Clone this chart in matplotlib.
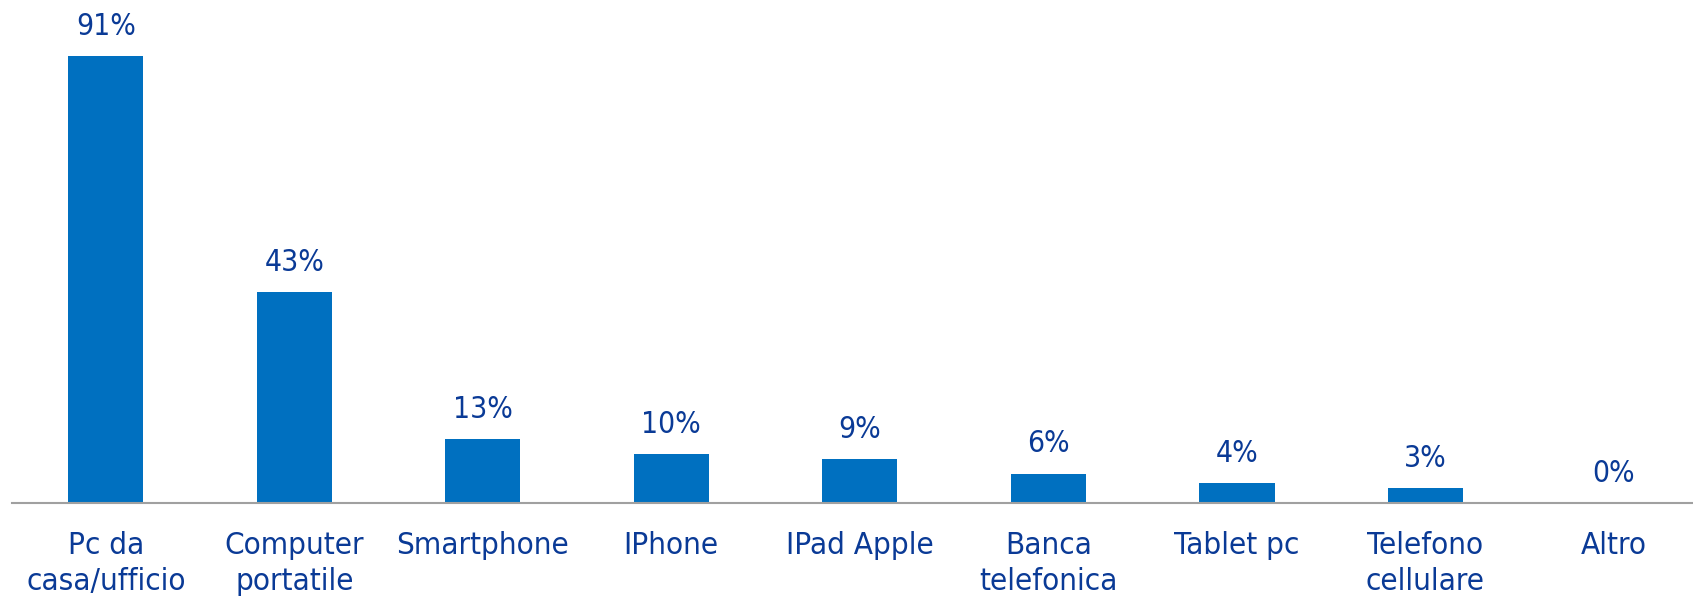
import matplotlib.pyplot as plt

# Data
categories = ["Pc da\ncasa/ufficio", "Computer\nportatile", "Smartphone", "IPhone",
              "IPad Apple", "Banca\ntelefonica", "Tablet pc", "Telefono\ncellulare", "Altro"]
values = [91, 43, 13, 10, 9, 6, 4, 3, 0]
value_labels = ["91%", "43%", "13%", "10%", "9%", "6%", "4%", "3%", "0%"]

bar_color = "#0070C0"
text_color = "#0A3A96"

plt.rcParams['font.family'] = ['DejaVu Sans']
plt.rcParams['font.stretch'] = 'condensed'

fig = plt.figure(figsize=(16.93, 5.97), dpi=100)
ax = fig.add_axes([11.5 / 1693, 94 / 597, (1693 - 11.5) / 1693, 491 / 597])

x = list(range(len(categories)))
bars = ax.bar(x, values, width=0.4, color=bar_color)

# value labels above bars
for rect, lab in zip(bars, value_labels):
    ax.annotate(lab, (rect.get_x() + rect.get_width() / 2, rect.get_height()),
                xytext=(0, 11), textcoords="offset points",
                ha="center", va="bottom", fontsize=21.5, color=text_color)

ax.set_xlim(-0.5, 8.42)
ax.set_ylim(0, 100)
ax.set_xticks(x)
ax.set_xticklabels(categories, fontsize=22.5, color=text_color, linespacing=1.33)
ax.tick_params(axis="x", length=0, pad=20)
ax.set_yticks([])

for side in ["top", "right", "left"]:
    ax.spines[side].set_visible(False)
ax.spines["bottom"].set_color("#A0A0A0")
ax.spines["bottom"].set_linewidth(1.5)

fig.savefig("out.png", dpi=100)
